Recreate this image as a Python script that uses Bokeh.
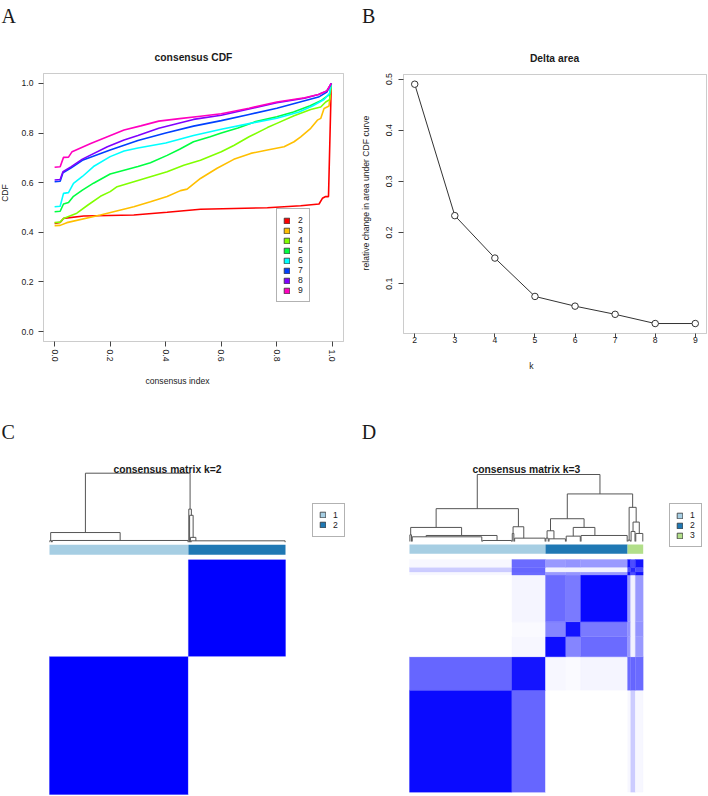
import numpy as np
from bokeh.plotting import figure
from bokeh.layouts import column, row
from bokeh.models import (Range1d, FixedTicker, PrintfTickFormatter, Label, Legend, LegendItem,
                          BoxAnnotation)
from bokeh.embed import file_html
from bokeh.resources import INLINE

SANS = "Liberation Sans"
SERIF = "Liberation Serif"
TXT = "#1a1a1a"
FRAME = "#555555"

# ---------------------------------------------------------------- data
# Panel A: consensus CDF for k = 2..9
cdf_k = [2, 3, 4, 5, 6, 7, 8, 9]
cdf_colors = ["#FF0000", "#FFBF00", "#80FF00", "#00FF40",
              "#00FFFF", "#0040FF", "#8000FF", "#FF00BF"]

cdf_x_2 = [0.0, 0.02, 0.032, 0.105, 0.285, 0.405, 0.525, 0.766, 0.886, 0.952, 0.964, 0.976, 0.986, 0.996]
cdf_y_2 = [0.436, 0.440, 0.456, 0.466, 0.470, 0.481, 0.493, 0.499, 0.507, 0.514, 0.537, 0.544, 0.544, 1.0]

cdf_x_3 = [0.0, 0.02, 0.044, 0.165, 0.285, 0.345, 0.405, 0.453, 0.477, 0.525, 0.585, 0.645, 0.706,
           0.766, 0.826, 0.862, 0.886, 0.922, 0.946, 0.958, 0.970, 0.988, 0.996]
cdf_y_3 = [0.427, 0.428, 0.439, 0.470, 0.503, 0.523, 0.544, 0.568, 0.574, 0.617, 0.658, 0.694, 0.718,
           0.732, 0.745, 0.765, 0.785, 0.819, 0.852, 0.859, 0.899, 0.909, 1.0]

cdf_x_4 = [0.0, 0.02, 0.032, 0.08, 0.12, 0.165, 0.2, 0.225, 0.285, 0.345, 0.405, 0.465, 0.525, 0.6,
           0.645, 0.7, 0.766, 0.8, 0.862, 0.922, 0.958, 0.976, 0.99, 0.996]
cdf_y_4 = [0.439, 0.441, 0.456, 0.477, 0.510, 0.545, 0.564, 0.584, 0.604, 0.624, 0.644, 0.670, 0.690,
           0.725, 0.750, 0.785, 0.822, 0.839, 0.870, 0.895, 0.905, 0.925, 0.935, 1.0]

cdf_x_5 = [0.0, 0.02, 0.032, 0.05, 0.068, 0.1, 0.14, 0.2, 0.25, 0.3, 0.345, 0.405, 0.45, 0.5, 0.56,
           0.6, 0.66, 0.72, 0.8, 0.86, 0.92, 0.958, 0.976, 0.99, 0.996]
cdf_y_5 = [0.483, 0.485, 0.514, 0.520, 0.545, 0.570, 0.598, 0.635, 0.650, 0.665, 0.680, 0.710, 0.735,
           0.765, 0.785, 0.800, 0.820, 0.845, 0.866, 0.885, 0.910, 0.930, 0.945, 0.955, 1.0]

cdf_x_6 = [0.0, 0.02, 0.032, 0.05, 0.068, 0.1, 0.14, 0.2, 0.25, 0.3, 0.4, 0.5, 0.6, 0.7, 0.8, 0.88,
           0.93, 0.97, 0.99, 0.996]
cdf_y_6 = [0.503, 0.505, 0.557, 0.560, 0.597, 0.625, 0.665, 0.705, 0.728, 0.740, 0.760, 0.790, 0.815,
           0.838, 0.860, 0.885, 0.910, 0.935, 0.960, 1.0]

cdf_x_7 = [0.0, 0.02, 0.03, 0.06, 0.1, 0.2, 0.3, 0.4, 0.5, 0.6, 0.7, 0.8, 0.9, 0.95, 0.98, 0.996]
cdf_y_7 = [0.604, 0.606, 0.640, 0.660, 0.690, 0.732, 0.770, 0.800, 0.828, 0.850, 0.875, 0.900, 0.930,
           0.945, 0.965, 1.0]

cdf_x_8 = [0.0, 0.02, 0.03, 0.06, 0.1, 0.19, 0.25, 0.3, 0.375, 0.5, 0.6, 0.7, 0.8, 0.9, 0.95, 0.98, 0.996]
cdf_y_8 = [0.611, 0.613, 0.644, 0.665, 0.695, 0.745, 0.772, 0.790, 0.819, 0.855, 0.872, 0.897, 0.922,
           0.940, 0.955, 0.970, 1.0]

cdf_x_9 = [0.0, 0.02, 0.032, 0.05, 0.063, 0.13, 0.19, 0.25, 0.31, 0.375, 0.45, 0.525, 0.6, 0.7, 0.8,
           0.9, 0.95, 0.98, 0.996]
cdf_y_9 = [0.662, 0.664, 0.702, 0.703, 0.725, 0.758, 0.785, 0.812, 0.829, 0.848, 0.858, 0.868, 0.878,
           0.900, 0.925, 0.942, 0.955, 0.970, 1.0]

cdf_x = [cdf_x_2, cdf_x_3, cdf_x_4, cdf_x_5, cdf_x_6, cdf_x_7, cdf_x_8, cdf_x_9]
cdf_y = [cdf_y_2, cdf_y_3, cdf_y_4, cdf_y_5, cdf_y_6, cdf_y_7, cdf_y_8, cdf_y_9]

# Panel B: relative change in area under the CDF curve
delta_k = [2, 3, 4, 5, 6, 7, 8, 9]
delta_area = [0.490, 0.233, 0.150, 0.075, 0.056, 0.040, 0.022, 0.022]

# Cluster colours used by the consensus matrices
cluster_colors = ["#A6CEE3", "#1F78B4", "#B2DF8A"]

# Panel C: k = 2 -- leaf groups in dendrogram order
c_names = ["a1", "a2", "b1", "b2", "b3", "b4"]
c_sizes = [3, 173, 1, 1, 1, 120]
c_cluster = [1, 1, 2, 2, 2, 2]
c_block = ["1", "1", "2", "2", "2", "2"]
c_inner_h = [0.025, 0.025, 0.0, 0.0, 0.0, 0.02]
c_anchor = [0.5, 0.5, 0.5, 0.5, 0.5, 0.05]
c_merges = [("b3", "b4", 0.07, "n1"), ("b2", "n1", 0.39, "n2"), ("b1", "n2", 0.48, "n3"),
            ("a1", "a2", 0.14, "n4"), ("n4", "n3", 1.0, "root")]
c_block_names = ["1", "2"]
c_consensus = [[1.00, 0.00],
               [0.00, 1.00]]

# Panel D: k = 3 -- leaf groups in dendrogram order
d_names = ["L1", "L2", "L3", "L4", "L5", "L6", "L7", "L8", "L9", "L10", "L11", "L12"]
d_sizes = [3, 90, 38, 3, 40, 4, 22, 19, 60, 4, 6, 10]
d_cluster = [1, 1, 1, 1, 1, 2, 2, 2, 2, 3, 3, 3]
d_block = ["1a", "1a", "1a", "1b", "1b", "2a", "2a", "2b", "2c", "3a", "3b", "3a"]
d_inner_h = [0.10, 0.07, 0.015, 0.12, 0.05, 0.05, 0.04, 0.08, 0.09, 0.02, 0.15, 0.12]
d_anchor = [0.5, 0.2, 0.5, 0.5, 0.3, 0.5, 0.3, 0.5, 0.3, 0.5, 0.5, 0.5]
d_merges = [("L2", "L3", 0.09, "m1"), ("L1", "m1", 0.21, "m2"), ("L4", "L5", 0.22, "m3"),
            ("m2", "m3", 0.49, "m4"), ("L6", "L7", 0.16, "m5"), ("L8", "L9", 0.21, "m6"),
            ("m5", "m6", 0.34, "m7"), ("L11", "L12", 0.29, "m8"), ("L10", "m8", 0.51, "m9"),
            ("m7", "m9", 0.71, "m10"), ("m4", "m10", 1.0, "root")]
d_block_names = ["1a", "1b", "2a", "2b", "2c", "3a", "3b"]
d_consensus = [[0.96, 0.60, 0.00, 0.00, 0.00, 0.03, 0.20],
               [0.60, 0.92, 0.03, 0.02, 0.04, 0.58, 0.60],
               [0.00, 0.03, 0.95, 0.48, 0.58, 0.40, 0.05],
               [0.00, 0.02, 0.48, 0.93, 0.52, 0.42, 0.05],
               [0.00, 0.04, 0.58, 0.52, 0.97, 0.40, 0.05],
               [0.03, 0.58, 0.40, 0.42, 0.40, 0.92, 0.70],
               [0.20, 0.60, 0.05, 0.05, 0.05, 0.70, 0.85]]

# ---------------------------------------------------------------- layout
PANEL_W, TOP_H, BOT_H = 354, 385, 411


def lin(v, a0, a1, b0, b1):
    return b0 + (v - a0) * (b1 - b0) / (a1 - a0)


def full_ranges(box_px, box_data, W, H):
    """Ranges for a figure whose frame fills the canvas, with the plot box at box_px."""
    l, r, t, b = box_px
    x0, x1, y0, y1 = box_data
    sx = (x1 - x0) / (r - l)
    sy = (y1 - y0) / (b - t)
    return Range1d(x0 - l * sx, x1 + (W - r) * sx), Range1d(y0 - (H - b) * sy, y1 + t * sy)


def add_text(p, x, y, text, size, bold=False, font=SANS, align="center", y_range_name="default"):
    p.add_layout(Label(x=x, y=y, text=text, text_font=font, text_font_size=f"{size}px",
                       text_font_style="bold" if bold else "normal", text_align=align,
                       text_baseline="alphabetic", text_color=TXT, y_range_name=y_range_name))


def add_legend(p, labels, colors, loc, padding, standoff):
    items = []
    nan = np.array([np.nan])
    for lab, col in zip(labels, colors):
        r = p.quad(left=nan, right=nan, bottom=nan, top=nan, fill_color=col,
                   line_color="#333333", line_width=0.8)
        items.append(LegendItem(label=lab, renderers=[r]))
    leg = Legend(items=items, location=loc, padding=padding, spacing=0, margin=0,
                 glyph_width=7, glyph_height=7, label_height=9, label_width=4,
                 label_standoff=standoff, border_line_color="#666666", border_line_width=1,
                 background_fill_color="white", background_fill_alpha=1.0,
                 label_text_font=SANS, label_text_font_size="8.6px", label_text_color=TXT)
    p.add_layout(leg)


def axes_figure(box_px, box_data):
    xr, yr = full_ranges(box_px, box_data, PANEL_W, TOP_H)
    p = figure(width=PANEL_W, height=TOP_H, x_range=xr, y_range=yr,
               output_backend="svg", toolbar_location=None, min_border=0)
    x0, x1, y0, y1 = box_data
    p.xaxis[0].fixed_location = y0
    p.yaxis[0].fixed_location = x0
    for ax in list(p.xaxis) + list(p.yaxis):
        ax.axis_line_color = None
        ax.major_tick_line_color = "#444444"
        ax.major_tick_in = 0
        ax.minor_tick_line_color = None
        ax.major_label_text_font = SANS
        ax.major_label_text_font_size = "8.6px"
        ax.major_label_text_color = TXT
        ax.axis_label_text_font = SANS
        ax.axis_label_text_font_size = "8.6px"
        ax.axis_label_text_font_style = "normal"
        ax.axis_label_text_color = TXT
    for g in p.grid:
        g.visible = False
    p.outline_line_color = None
    p.add_layout(BoxAnnotation(left=x0, right=x1, bottom=y0, top=y1, fill_alpha=0,
                               line_color=FRAME, line_width=1))
    return p


# ---------------------------------------------------------------- panel A
A_BOX = (43, 343, 73, 341)
A_DATA = (-0.04, 1.04, -0.04, 1.04)
pa = axes_figure(A_BOX, A_DATA)
ticks01 = [0.0, 0.2, 0.4, 0.6, 0.8, 1.0]
for ax in (pa.xaxis[0], pa.yaxis[0]):
    ax.ticker = FixedTicker(ticks=ticks01)
    ax.formatter = PrintfTickFormatter(format="%.1f")
    ax.major_tick_out = 5
pa.xaxis[0].major_label_standoff = 3
pa.xaxis[0].major_label_orientation = "vertical"
pa.xaxis[0].axis_label = "consensus index"
pa.xaxis[0].axis_label_standoff = 12
pa.yaxis[0].major_label_standoff = 5
pa.yaxis[0].axis_label = "CDF"
pa.yaxis[0].axis_label_standoff = 9

for xs, ys, col in zip(cdf_x, cdf_y, cdf_colors):
    pa.line(xs, ys, line_color=col, line_width=1.6)

ax_px = lambda px: lin(px, A_BOX[0], A_BOX[1], A_DATA[0], A_DATA[1])
ay_px = lambda py: lin(py, A_BOX[3], A_BOX[2], A_DATA[2], A_DATA[3])
add_text(pa, ax_px(193), ay_px(57.3), "consensus CDF", 10.3, bold=True)
add_text(pa, ax_px(1), ay_px(15.5), "A", 20, font=SERIF, align="left")
add_legend(pa, [str(k) for k in cdf_k], cdf_colors, (276, TOP_H - 302), 6, 8)

# ---------------------------------------------------------------- panel B
B_BOX = (49, 352, 74, 333)
B_DATA = (1.72, 9.28, 0.0025, 0.509)
pb = axes_figure(B_BOX, B_DATA)
pb.xaxis[0].ticker = FixedTicker(ticks=delta_k)
pb.xaxis[0].major_tick_out = 4
pb.xaxis[0].major_label_standoff = -1
pb.xaxis[0].axis_label = "k"
pb.xaxis[0].axis_label_standoff = 15
pb.yaxis[0].ticker = FixedTicker(ticks=[0.1, 0.2, 0.3, 0.4, 0.5])
pb.yaxis[0].formatter = PrintfTickFormatter(format="%.1f")
pb.yaxis[0].major_tick_out = 5
pb.yaxis[0].major_label_standoff = 6
pb.yaxis[0].major_label_orientation = "vertical"
pb.yaxis[0].axis_label = "relative change in area under CDF curve"
pb.yaxis[0].axis_label_standoff = 13

pb.line(delta_k, delta_area, line_color="#333333", line_width=1)
pb.scatter(delta_k, delta_area, size=6.5, marker="circle", fill_color="white",
           line_color="#333333", line_width=1)

bx_px = lambda px: lin(px, B_BOX[0], B_BOX[1], B_DATA[0], B_DATA[1])
by_px = lambda py: lin(py, B_BOX[3], B_BOX[2], B_DATA[2], B_DATA[3])
add_text(pb, bx_px(200), by_px(57.5), "Delta area", 10.3, bold=True)
add_text(pb, bx_px(7.5), by_px(15.5), "B", 20, font=SERIF, align="left")


# ---------------------------------------------------------------- panels C and D
def blue_shade(v):
    c = int(round(255 * (1 - v)))
    return "#%02x%02xff" % (c, c)


def runs_of(labels, sizes):
    runs = []
    s = 0
    for lab, n in zip(labels, sizes):
        if runs and runs[-1][0] == lab:
            runs[-1][2] += n
        else:
            runs.append([lab, s, s + n])
        s += n
    return runs


def dendrogram_segments(names, sizes, inner_h, anchor, merges):
    starts = np.concatenate([[0], np.cumsum(sizes)[:-1]])
    pos, hgt = {}, {}
    x0, y0, x1, y1 = [], [], [], []
    for nm, s, n, h, a in zip(names, starts, sizes, inner_h, anchor):
        first, last = s + 0.5, s + n - 0.5
        pos[nm] = first + a * (last - first)
        hgt[nm] = h
        if n > 1 and h > 0:
            # tightly-knit leaves drawn as one flat bracket
            x0 += [first, first, last]
            y0 += [0, h, 0]
            x1 += [first, last, last]
            y1 += [h, h, h]
    for left, right, h, node in merges:
        xl, xr = pos[left], pos[right]
        x0 += [xl, xl, xr]
        y0 += [hgt[left], h, hgt[right]]
        x1 += [xl, xr, xr]
        y1 += [h, h, h]
        pos[node] = (xl + xr) / 2
        hgt[node] = h
    return x0, y0, x1, y1


def consensus_panel(letter, k, names, sizes, clusters, blocks, inner_h, anchor, merges,
                    block_names, consensus, hm_x, hm_y, dend, bar, letter_x, legend_box):
    n = int(sum(sizes))
    hx0, hx1 = hm_x
    hy0, hy1 = hm_y
    upp = n / (hx1 - hx0)
    vpp = n / (hy1 - hy0)
    base, unit = dend
    p = figure(width=PANEL_W, height=BOT_H, output_backend="svg", toolbar_location=None,
               x_range=Range1d(-hx0 * upp, (PANEL_W - hx0) * upp),
               y_range=Range1d((hy1 - BOT_H) * vpp, hy1 * vpp),
               x_axis_location=None, y_axis_location=None, min_border=0)
    p.extra_y_ranges = {"dend": Range1d((base - BOT_H) / unit, base / unit)}
    p.outline_line_color = None
    for g in p.grid:
        g.visible = False
    dy = lambda r: (base - r) / unit
    x_px = lambda px: (px - hx0) * upp

    # consensus matrix (rows shown in reverse sample order)
    idx = {b: i for i, b in enumerate(block_names)}
    runs = runs_of(blocks, sizes)
    L, R, Bt, T, C = [], [], [], [], []
    for rb, rs, re in runs:
        for cb, cs, ce in runs:
            L.append(cs); R.append(ce); Bt.append(rs); T.append(re)
            C.append(blue_shade(consensus[idx[rb]][idx[cb]]))
    p.quad(left=L, right=R, bottom=Bt, top=T, fill_color=C, line_color=C, line_width=0.3)

    # cluster colour bar
    cr = runs_of(clusters, sizes)
    p.quad(left=[s for _, s, _ in cr], right=[e for _, _, e in cr],
           bottom=[dy(bar[1])] * len(cr), top=[dy(bar[0])] * len(cr),
           fill_color=[cluster_colors[c - 1] for c, _, _ in cr], line_color=None,
           y_range_name="dend")

    # dendrogram
    x0, y0, x1, y1 = dendrogram_segments(names, sizes, inner_h, anchor, merges)
    p.segment(x0, y0, x1, y1, line_color="#555555", line_width=1, y_range_name="dend")

    add_text(p, n / 2, dy(83.5), f"consensus matrix k={k}", 10.3, bold=True, y_range_name="dend")
    add_text(p, x_px(letter_x), dy(46.5), letter, 20, font=SERIF, align="left", y_range_name="dend")
    n_cl = max(clusters)
    add_legend(p, [str(i + 1) for i in range(n_cl)], cluster_colors[:n_cl],
               (legend_box[0], BOT_H - legend_box[1]), 6, 7)
    return p


pc = consensus_panel("C", 2, c_names, c_sizes, c_cluster, c_block, c_inner_h, c_anchor, c_merges,
                     c_block_names, c_consensus, hm_x=(49, 285), hm_y=(174.3, 409),
                     dend=(156.7, 69), bar=(159.3, 169.3), letter_x=1, legend_box=(312, 151.7))
pd = consensus_panel("D", 3, d_names, d_sizes, d_cluster, d_block, d_inner_h, d_anchor, d_merges,
                     d_block_names, d_consensus, hm_x=(55, 288.7), hm_y=(174, 406.7),
                     dend=(156, 67), bar=(159, 168.3), letter_x=7.3, legend_box=(315, 162.3))

layout = column(row(pa, pb), row(pc, pd))
open("out.html", "w").write(file_html(layout, INLINE))
